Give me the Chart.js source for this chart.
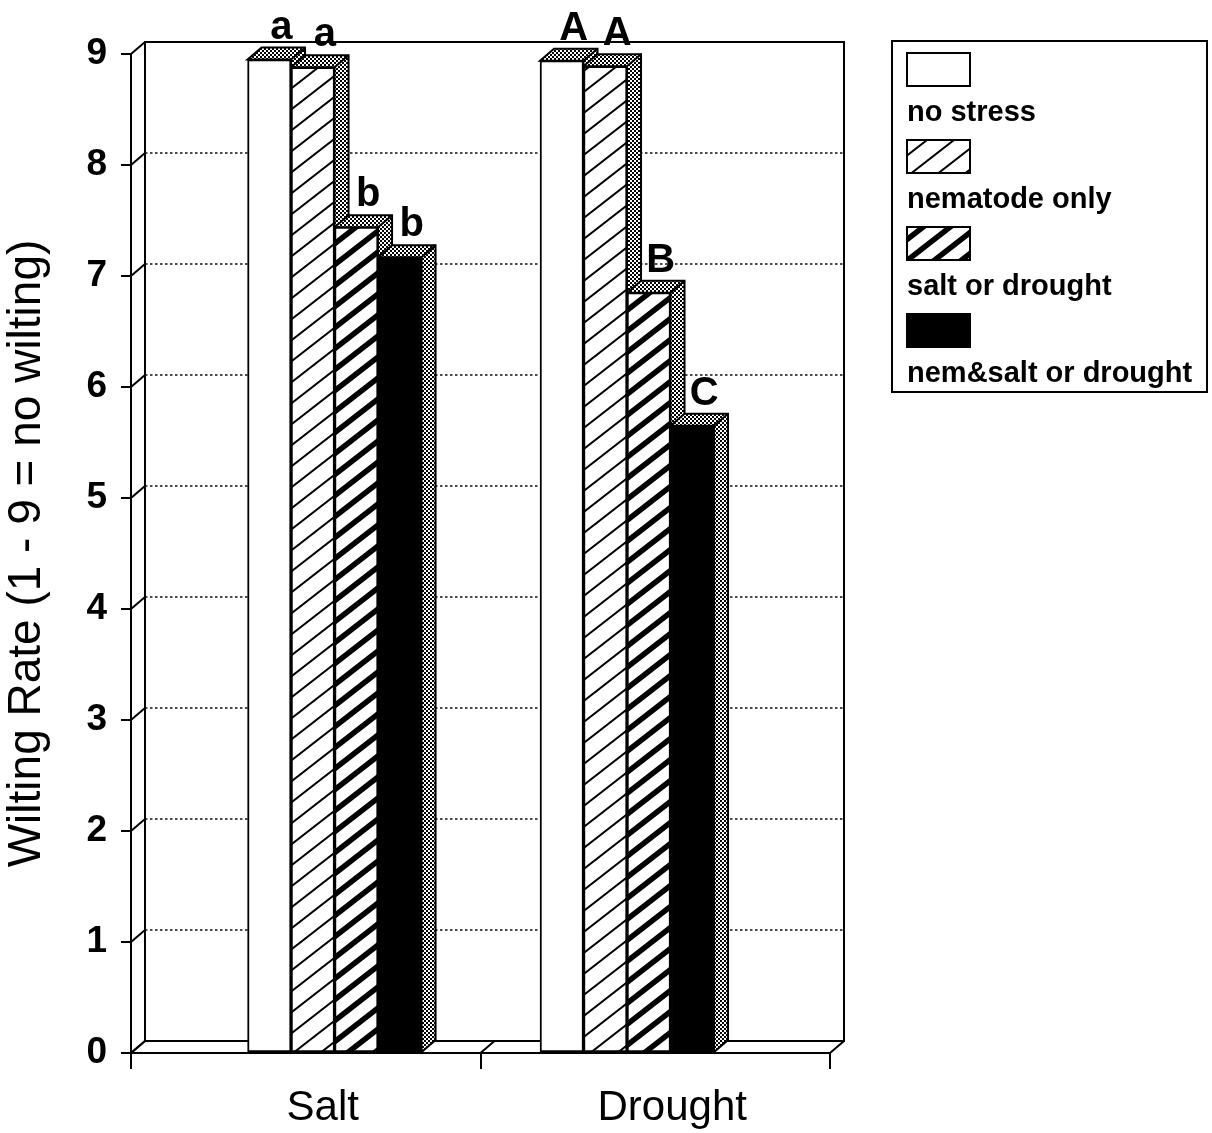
<!DOCTYPE html>
<html>
<head>
<meta charset="utf-8">
<script src="https://cdn.jsdelivr.net/npm/chart.js@4.4.1/dist/chart.umd.min.js"></script>
<style>
  html, body { margin: 0; padding: 0; background: #fff; }
  #wrap { width: 1212px; height: 1133px; position: relative; }
</style>
</head>
<body>
<div id="wrap"><canvas id="wilt"></canvas></div>
<script>
// data
const categories = ['Salt', 'Drought'];
const seriesNames = ['no stress', 'nematode only', 'salt or drought', 'nem&salt or drought'];
const noStress = [8.95, 8.94];
const nematodeOnly = [8.88, 8.89];
const saltOrDrought = [7.44, 6.85];
const nemSaltOrDrought = [7.17, 5.65];
// significance letters above each bar
const lettersNoStress = ['a', 'A'];
const lettersNematode = ['a', 'A'];
const lettersSaltDrought = ['b', 'B'];
const lettersNemSalt = ['b', 'C'];

const seriesValues = [noStress, nematodeOnly, saltOrDrought, nemSaltOrDrought];
const seriesLetters = [lettersNoStress, lettersNematode, lettersSaltDrought, lettersNemSalt];

const FONT = '"Liberation Sans", Arial, Helvetica, sans-serif';
const DX = 14, DY = -12;   // 3d depth offset

function hatch(w, h, lw) {
    const c = document.createElement('canvas');
    c.width = w; c.height = h;
    const g = c.getContext('2d');
    g.fillStyle = '#fff';
    g.fillRect(0, 0, w, h);
    g.strokeStyle = '#000';
    g.lineWidth = lw;
    for (const k of [-1, 0, 1]) {
        g.beginPath();
        g.moveTo(k * w - w, 2 * h);
        g.lineTo((k + 2) * w, -h);
        g.stroke();
    }
    return g.createPattern(c, 'repeat');
}

function stipple() {
    const c = document.createElement('canvas');
    c.width = 4; c.height = 4;
    const g = c.getContext('2d');
    g.fillStyle = '#fff';
    g.fillRect(0, 0, 4, 4);
    g.fillStyle = '#000';
    g.fillRect(0, 0, 2, 2);
    g.fillRect(2, 2, 2, 2);
    return g.createPattern(c, 'repeat');
}

const fills = ['#ffffff', hatch(27, 21, 2), hatch(27, 21, 5.5), '#000000'];
const stip = stipple();

// walls, floor, dotted grid and the depth faces of the bars
const box3d = {
    id: 'box3d',
    beforeDatasetsDraw(chart) {
        const { ctx, chartArea: a, scales } = chart;
        const y = scales.y, x = scales.x;
        ctx.save();
        ctx.strokeStyle = '#000';
        ctx.lineWidth = 2;
        ctx.strokeRect(a.left + DX, a.top + DY, a.right - a.left, a.bottom - a.top);
        // left wall connectors
        y.ticks.forEach(t => {
            const py = y.getPixelForValue(t.value);
            ctx.beginPath();
            ctx.moveTo(a.left, py);
            ctx.lineTo(a.left + DX, py + DY);
            ctx.stroke();
        });
        // floor connectors at category boundaries
        for (let i = 0; i <= categories.length; i++) {
            const px = x.getPixelForValue(i - 0.5);
            ctx.beginPath();
            ctx.moveTo(px, a.bottom);
            ctx.lineTo(px + DX, a.bottom + DY);
            ctx.stroke();
        }
        // dotted grid on back wall
        ctx.setLineDash([2.5, 2.5]);
        ctx.lineWidth = 1.6;
        ctx.strokeStyle = '#111';
        y.ticks.forEach(t => {
            if (t.value <= y.min || t.value >= y.max) return;
            const py = y.getPixelForValue(t.value) + DY;
            ctx.beginPath();
            ctx.moveTo(a.left + DX, py);
            ctx.lineTo(a.right + DX, py);
            ctx.stroke();
        });
        ctx.setLineDash([]);
        // depth faces
        ctx.lineWidth = 2;
        ctx.strokeStyle = '#000';
        ctx.fillStyle = stip;
        chart.data.datasets.forEach((ds, di) => {
            chart.getDatasetMeta(di).data.forEach(bar => {
                const p = bar.getProps(['x', 'y', 'base', 'width'], true);
                const L = p.x - p.width / 2, R = p.x + p.width / 2;
                ctx.beginPath();
                ctx.moveTo(L, p.y);
                ctx.lineTo(L + DX, p.y + DY);
                ctx.lineTo(R + DX, p.y + DY);
                ctx.lineTo(R + DX, p.base + DY);
                ctx.lineTo(R, p.base);
                ctx.lineTo(R, p.y);
                ctx.closePath();
                ctx.fill();
                ctx.stroke();
                ctx.beginPath();
                ctx.moveTo(R, p.y);
                ctx.lineTo(R + DX, p.y + DY);
                ctx.stroke();
            });
        });
        ctx.restore();
    },
    afterDatasetsDraw(chart) {
        const ctx = chart.ctx;
        ctx.save();
        ctx.fillStyle = '#000';
        ctx.font = 'bold 40px ' + FONT;
        ctx.textAlign = 'center';
        ctx.textBaseline = 'alphabetic';
        chart.data.datasets.forEach((ds, di) => {
            chart.getDatasetMeta(di).data.forEach((bar, i) => {
                ctx.fillText(seriesLetters[di][i], bar.x + 12, bar.y - 21);
            });
        });
        ctx.restore();
    },
    afterDraw(chart) {
        // legend: swatch above its label
        const ctx = chart.ctx;
        const lx = 892, ly = 41, lw = 315, lh = 351;
        ctx.save();
        ctx.strokeStyle = '#000';
        ctx.lineWidth = 2;
        ctx.strokeRect(lx, ly, lw, lh);
        ctx.font = 'bold 29px ' + FONT;
        ctx.fillStyle = '#000';
        ctx.textAlign = 'left';
        ctx.textBaseline = 'alphabetic';
        chart.data.datasets.forEach((ds, i) => {
            const sy = ly + 12 + i * 87;
            ctx.fillStyle = ds.backgroundColor;
            ctx.fillRect(907, sy, 63, 33);
            ctx.strokeRect(907, sy, 63, 33);
            ctx.fillStyle = '#000';
            ctx.fillText(ds.label, 907, ly + 80 + i * 87);
        });
        ctx.restore();
    }
};

new Chart(document.getElementById('wilt'), {
    type: 'bar',
    data: {
        labels: categories,
        datasets: seriesNames.map((name, s) => ({
            label: name,
            data: seriesValues[s].map((v, i) => ({ x: i + 1, y: v })),
            backgroundColor: fills[s],
            borderColor: '#000',
            borderWidth: 2,
            borderSkipped: false,
            barThickness: 43.5,
            xAxisID: 'x2',
            yAxisID: 'y'
        }))
    },
    options: {
        responsive: true,
        maintainAspectRatio: false,
        animation: false,
        layout: { padding: { top: 54, right: 382, bottom: 0, left: 0 } },
        plugins: { legend: { display: false }, tooltip: { enabled: false } },
        scales: {
            x: {
                type: 'category',
                labels: categories,
                offset: true,
                grid: { offset: true, drawOnChartArea: false, drawTicks: true, tickLength: 16, color: '#000', lineWidth: 2 },
                border: { display: true, color: '#000', width: 2 },
                ticks: { font: { family: FONT, size: 42 }, color: '#000', padding: 14, labelOffset: 17, maxRotation: 0, autoSkip: false },
                afterFit: s => { s.height = 80; }
            },
            x2: {
                type: 'linear',
                display: false,
                offset: false,
                min: 0.304,
                max: 2.694
            },
            y: {
                min: 0,
                max: 9,
                ticks: { stepSize: 1, font: { family: FONT, size: 37, weight: 'bold' }, color: '#000', padding: 14 },
                grid: { drawOnChartArea: false, drawTicks: true, tickLength: 10, color: '#000', lineWidth: 2 },
                border: { display: true, color: '#000', width: 2 },
                title: {
                    display: true,
                    text: 'Wilting Rate (1 - 9 = no wilting)',
                    font: { family: FONT, size: 46, lineHeight: 1.2 },
                    color: '#000',
                    padding: { top: 0, bottom: 0 }
                },
                afterFit: s => { s.width = 131; }
            }
        }
    },
    plugins: [box3d]
});
</script>
</body>
</html>
